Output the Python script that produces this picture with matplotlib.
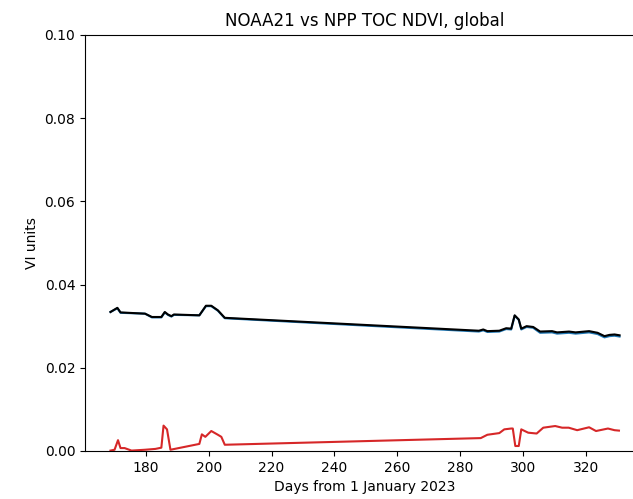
import matplotlib
matplotlib.use("Agg")
import matplotlib.pyplot as plt

# NOAA21 - NPP difference stats, TOC NDVI (global)
days_black = [168.7, 170.9, 171.9, 179.7, 181.9, 184.9, 186.0, 187.0, 188.1, 188.9,
              197.0, 199.1, 200.8, 202.9, 205.1, 286.0, 287.4, 288.7, 292.5, 294.7,
              296.3, 297.4, 298.7, 299.5, 301.2, 303.3, 305.5, 309.3, 310.9, 314.7,
              316.8, 321.1, 323.8, 326.0, 327.6, 329.2, 330.8]
rmsd = [0.0334, 0.0344, 0.0333, 0.0330, 0.0322, 0.0322, 0.0334, 0.0328, 0.0324, 0.0328,
        0.0326, 0.0349, 0.0349, 0.0338, 0.0320, 0.0289, 0.0292, 0.0288, 0.0289, 0.0295,
        0.0294, 0.0326, 0.0316, 0.0294, 0.0300, 0.0298, 0.0287, 0.0288, 0.0285, 0.0287,
        0.0285, 0.0288, 0.0284, 0.0276, 0.0279, 0.0280, 0.0278]
precision = [0.0334, 0.0343, 0.0332, 0.0330, 0.0321, 0.0321, 0.0333, 0.0327, 0.0323, 0.0327,
             0.0326, 0.0348, 0.0348, 0.0337, 0.0319, 0.0287, 0.0290, 0.0286, 0.0287, 0.0293,
             0.0292, 0.0325, 0.0315, 0.0292, 0.0298, 0.0296, 0.0284, 0.0285, 0.0282, 0.0284,
             0.0282, 0.0285, 0.0281, 0.0273, 0.0276, 0.0277, 0.0275]

days_red = [168.7, 170.0, 171.1, 171.9, 173.2, 175.4, 179.7, 183.0, 184.9, 185.6,
            186.7, 187.8, 197.0, 197.8, 198.9, 200.8, 202.9, 204.0, 205.1, 286.6,
            288.7, 292.5, 294.1, 296.3, 296.8, 297.6, 298.7, 299.5, 301.7, 304.4,
            306.5, 310.3, 312.5, 314.6, 317.3, 321.1, 323.3, 327.1, 329.2, 330.6]
accuracy = [0.0001, 0.0003, 0.0026, 0.0007, 0.0007, 0.0001, 0.0003, 0.0005, 0.0008, 0.0061,
            0.0052, 0.0003, 0.0017, 0.0040, 0.0034, 0.0048, 0.0039, 0.0034, 0.0015, 0.0031,
            0.0039, 0.0043, 0.0052, 0.0054, 0.0054, 0.0012, 0.0012, 0.0052, 0.0044, 0.0042,
            0.0056, 0.0060, 0.0056, 0.0056, 0.0050, 0.0057, 0.0048, 0.0054, 0.0050, 0.0049]

fig = plt.figure(figsize=(6.33, 4.99), dpi=100)
ax = fig.add_axes([0.1343, 0.0962, 0.8847, 0.834])

ax.plot(days_black, precision, color="#1f77b4")
ax.plot(days_black, rmsd, color="black")
ax.plot(days_red, accuracy, color="#d62728")

ax.set_ylim(0, 0.1)
ax.set_xticks([180, 200, 220, 240, 260, 280, 300, 320])
ax.set_title("NOAA21 vs NPP TOC NDVI, global")
ax.set_xlabel("Days from 1 January 2023")
ax.set_ylabel("VI units")

plt.savefig("out.png", dpi=100)
